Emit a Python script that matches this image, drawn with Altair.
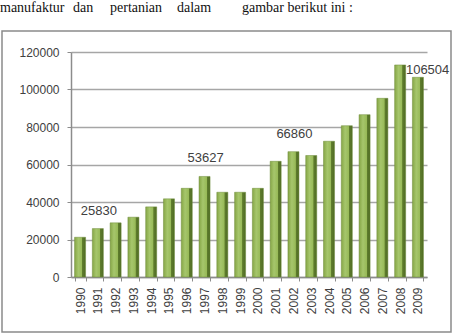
import altair as alt
import pandas as pd

years = [str(y) for y in range(1990, 2010)]
values = [21200, 25830, 28900, 31900, 37400, 41700, 47300, 53627, 45200, 45200,
          47300, 61700, 66860, 64800, 72400, 80700, 86600, 95300, 113100, 106504]
labels = ["", "25830", "", "", "", "", "", "53627", "", "",
          "", "", "66860", "", "", "", "", "", "", "106504"]
y_ticks = [0, 20000, 40000, 60000, 80000, 100000, 120000]

words = ["manufaktur", "dan", "pertanian", "dalam", "gambar berikut ini :"]
word_x = [0, 73, 110, 177, 242]

df = pd.DataFrame({"year": years, "value": values, "label": labels})

W, H = 356, 225
PL, PT = 71, 52

x_enc = alt.X("year:N", sort=years,
              scale=alt.Scale(paddingInner=0.38, paddingOuter=0.2),
              axis=alt.Axis(title=None, labelAngle=270, labelFontSize=12,
                            labelFont="Liberation Sans", labelColor="#404040",
                            labelPadding=6, tickBand="extent", tickSize=4,
                            tickColor="#8c8c8c", domainColor="#8c8c8c",
                            domainWidth=1.5, labelBaseline="middle", labelAlign="right",
                            labelOverlap=False))
y_enc = alt.Y("value:Q", scale=alt.Scale(domain=[0, 120000], nice=False),
              axis=alt.Axis(title=None, values=y_ticks, tickCount=7, format="d", labelFontSize=12,
                            labelFont="Liberation Sans", labelColor="#404040",
                            tickSize=4, labelPadding=8, tickColor="#8c8c8c",
                            domainColor="#8c8c8c", domainWidth=1.5, labelOverlap=False,
                            labelFlush=False,
                            grid=True, gridColor="#a6a6a6", gridWidth=1.5))

grad = alt.Gradient(
    gradient="linear", x1=0, x2=1, y1=0, y2=0,
    stops=[alt.GradientStop(offset=0, color="#86a646"),
           alt.GradientStop(offset=0.35, color="#a6c66c"),
           alt.GradientStop(offset=0.68, color="#98ba58"),
           alt.GradientStop(offset=0.72, color="#5f7d2d"),
           alt.GradientStop(offset=1, color="#4f6b24")])

base = alt.Chart(df)
bars = base.mark_bar(fill=grad, stroke="#6e8c3a", strokeWidth=0.5).encode(x=x_enc, y=y_enc)

lab_mid = base.transform_filter(
    (alt.datum.label != "") & (alt.datum.year != "2009")
).mark_text(fontSize=13, font="Liberation Sans", color="#404040", dy=-11, baseline="bottom", dx=1).encode(
    x=x_enc, y=y_enc, text="label:N")
lab_last = base.transform_filter(alt.datum.year == "2009").mark_text(
    fontSize=13, font="Liberation Sans", color="#404040", align="left", dx=-12, dy=-7,
    baseline="middle").encode(x=x_enc, y=y_enc, text="label:N")

frame_df = pd.DataFrame({"k": [0]})
frame = alt.Chart(frame_df).mark_rect(fill=None, stroke="#8a8a8a", strokeWidth=1.5).encode(
    x=alt.value(2 - PL), x2=alt.value(451 - PL), y=alt.value(31 - PT), y2=alt.value(332 - PT))

words_df = pd.DataFrame({"w": words, "px": [v - PL for v in word_x]})
text_top = alt.Chart(words_df).mark_text(
    font="Liberation Serif, DejaVu Serif, serif", fontSize=14, color="#111111", align="left",
    baseline="alphabetic").encode(
    x=alt.X("px:Q", scale=None), y=alt.value(12 - PT), text="w:N")

chart = alt.layer(bars, lab_mid, lab_last, frame, text_top).properties(
    width=W, height=H,
    autosize=alt.AutoSizeParams(type="none"),
    padding={"left": PL, "top": PT, "right": 458 - PL - W, "bottom": 335 - PT - H},
    background="white"
).configure_view(stroke=None)

chart.save("out.html", embed_options={"renderer": "svg", "actions": False})
